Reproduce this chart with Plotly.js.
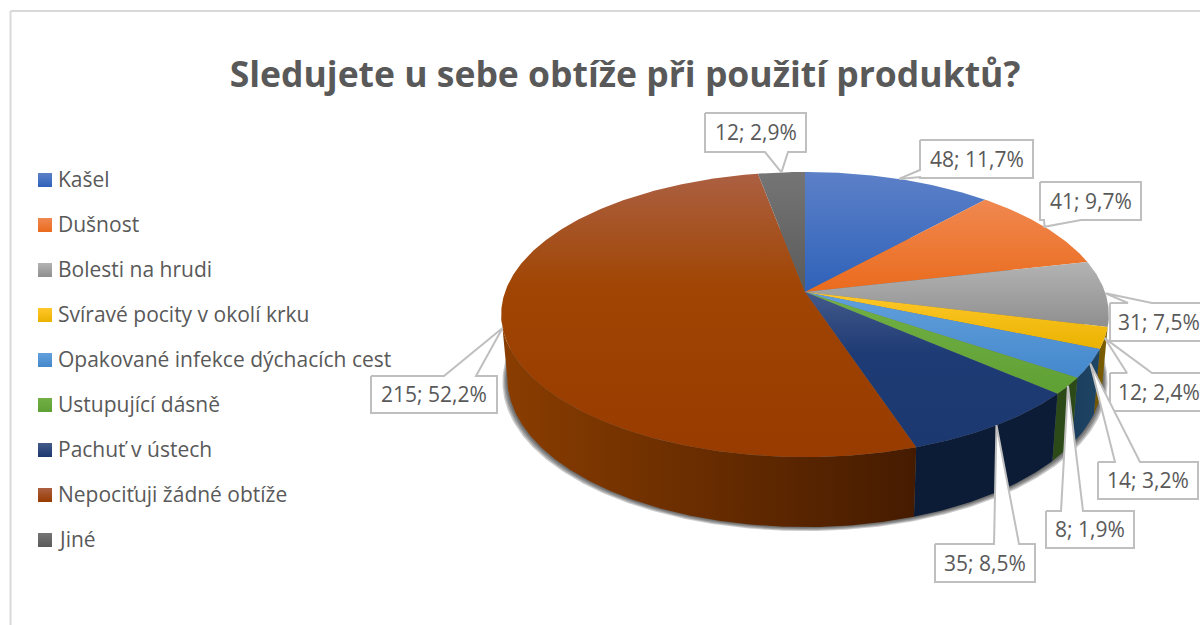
<!DOCTYPE html>
<html>
<head>
<meta charset="utf-8">
<script src="https://cdn.plot.ly/plotly-3.0.1.min.js"></script>
<style>html,body{margin:0;padding:0;background:#fff}#chart{width:1200px;height:625px}</style>
</head>
<body>
<div id="chart"></div>
<script>
// ---- data ----
const categories = ["Kašel","Dušnost","Bolesti na hrudi","Svíravé pocity v okolí krku","Opakované infekce dýchacích cest","Ustupující dásně","Pachuť v ústech","Nepociťuji žádné obtíže","Jiné"];
const counts = [48,41,31,12,14,8,35,215,12];
const percents = [11.7,9.7,7.5,2.4,3.2,1.9,8.5,52.2,2.9];

// ---- styling ----
const topColors = [
  ["#5c80c8","#2f62b9"],["#f08850","#ea6b1d"],["#b3b3b3","#8f8f8f"],
  ["#ffc82a","#eab200"],["#62a0dc","#4488cc"],["#72b045","#5fa034"],
  ["#435a8a","#1c3870"],["#ac6042","#983b00"],["#757575","#5a5a5a"]];
const midColors = [null,null,null,null,null,null,"#1e3b75","#a04503",null];
const wallColors = [
  ["#1f3d70","#1f3d70"],["#7a3a10","#7a3a10"],["#6a6a6a","#5e5e5e"],
  ["#7f6000","#6f5400"],["#1f4565","#1b3d5c"],["#2b4a18","#2b4a18"],
  ["#0c1c36","#0c1c36"],["#451b00","#8a3d00"],["#3a3a3a","#3a3a3a"]];
// callout boxes: left, top, right, bottom, wedge base start, wedge base end, side of the wedge
const boxLeft   = [920,1040,1110,1110,1098,1046,935,371,705];
const boxTop    = [140,182,303,373,462,511,544,376,113];
const boxRight  = [1033,1141,1207,1207,1198,1134,1035,497,806];
const boxBottom = [178,220,341,411,499,548,582,413,152];
const wedgeA    = [170,1044,1128,1127,1115,1061,994,444,765];
const wedgeB    = [177,1081,1152,1152,1140,1083,1019,476,788];
const wedgeSide = ["left","bottom","top","top","top","top","top","top","bottom"];

// ---- disc projection ----
const cx = 805, cy = 292, A = 300, B = 139, K = 0.158;
const SIL_R = 99, SIL_L = 261;
const rad = d => d * Math.PI / 180;
function topPt(deg){
  const u = Math.sin(rad(deg)), v = Math.cos(rad(deg)), w = 1 + K*v;
  return [cx + A*u/w, cy - B*v/w, v];
}
function botPt(deg, grow){
  const p = topPt(deg), g = grow || 0;
  return [cx + (p[0]-cx)*(0.98 + g*0.004), p[1] + 62 - 8*p[2] + g];
}
function arc(a0, a1, fn){
  const pts = [], n = Math.max(2, Math.ceil(Math.abs(a1-a0)*2));
  for(let i=0;i<=n;i++) pts.push(fn(a0 + (a1-a0)*i/n));
  return pts;
}
const total = percents.reduce((s,p)=>s+p,0);
const starts = [], ends = [];
percents.reduce((acc,p,i)=>{ starts[i]=acc/total*360; ends[i]=(acc+p)/total*360; return acc+p; },0);

const traces = [];
const xs = p => p.map(q=>q[0]), ys = p => p.map(q=>q[1]);

// soft shadow below the wall
[4,3,2,1].forEach(g=>{
  const p = arc(0,360,d=>botPt(d,g));
  traces.push({type:"scatter",mode:"lines",x:xs(p),y:ys(p),fill:"toself",fillcolor:"rgba(40,40,40,0.24)",line:{width:0},hoverinfo:"skip",showlegend:false});
});
// walls
categories.forEach((c,i)=>{
  const a0 = Math.max(starts[i],SIL_R), a1 = Math.min(ends[i],SIL_L);
  if(a1 <= a0) return;
  const p = arc(a0,a1,topPt).concat(arc(a1,a0,d=>botPt(d)));
  const x = xs(p);
  traces.push({type:"scatter",mode:"lines",x:x,y:ys(p),fill:"toself",line:{width:0},hoverinfo:"skip",showlegend:false,
    fillcolor:wallColors[i][0],
    fillgradient:{type:"horizontal",start:Math.min(...x),stop:Math.max(...x),colorscale:[[0,wallColors[i][1]],[1,wallColors[i][0]]]}});
});
// top face
categories.forEach((c,i)=>{
  const p = [[cx,cy]].concat(arc(starts[i],ends[i],topPt)).concat([[cx,cy]]);
  const y = ys(p);
  const scale = midColors[i] ? [[0,topColors[i][0]],[0.4,midColors[i]],[1,topColors[i][1]]] : [[0,topColors[i][0]],[1,topColors[i][1]]];
  traces.push({type:"scatter",mode:"lines",x:xs(p),y:y,fill:"toself",line:{width:0},name:c,
    text:counts[i]+"; "+percents[i].toFixed(1).replace(".",",")+"%",hoverinfo:"name+text",showlegend:false,
    fillcolor:topColors[i][1],
    fillgradient:{type:"vertical",start:Math.min(...y),stop:Math.max(...y),colorscale:scale}});
});
// callouts
const annotations = [];
categories.forEach((c,i)=>{
  const mid = (starts[i]+ends[i])/2, t = topPt(mid);
  const L=boxLeft[i],T=boxTop[i],R=boxRight[i],Bt=boxBottom[i],a=wedgeA[i],b=wedgeB[i];
  let p;
  if(wedgeSide[i]==="top") p=[[L,T],[a,T],[t[0],t[1]],[b,T],[R,T],[R,Bt],[L,Bt],[L,T]];
  else if(wedgeSide[i]==="bottom") p=[[L,T],[R,T],[R,Bt],[b,Bt],[t[0],t[1]],[a,Bt],[L,Bt],[L,T]];
  else p=[[L,T],[R,T],[R,Bt],[L,Bt],[L,b],[t[0],t[1]],[L,a],[L,T]];
  traces.push({type:"scatter",mode:"lines",x:xs(p),y:ys(p),fill:"toself",fillcolor:"#ffffff",line:{color:"#bfbfbf",width:2},hoverinfo:"skip",showlegend:false});
  annotations.push({x:(L+R)/2,y:(T+Bt)/2-0.5,xref:"x",yref:"y",showarrow:false,xanchor:"center",yanchor:"middle",
    text:counts[i]+"; "+percents[i].toFixed(1).replace(".",",")+"%",font:{family:"Open Sans",size:21,color:"#595959"}});
});
// legend
categories.forEach((c,i)=>{
  const ly = 180 + i*45;
  traces.push({type:"scatter",mode:"markers",x:[45],y:[ly],hoverinfo:"skip",showlegend:false,
    marker:{symbol:"square",size:14,color:topColors[i][0],line:{width:0},gradient:{type:"vertical",color:topColors[i][1]}}});
  annotations.push({x:58,y:ly-1,xref:"x",yref:"y",showarrow:false,xanchor:"left",yanchor:"middle",xshift:-2,
    text:c,font:{family:"Open Sans",size:21,color:"#595959"}});
});

const layout = {
  width:1200,height:625,margin:{l:0,r:0,t:0,b:0},paper_bgcolor:"#fff",plot_bgcolor:"#fff",showlegend:false,
  title:{text:"Sledujete u sebe obtíže při použití produktů?",x:625/1200,xanchor:"center",y:1-75/625,yanchor:"middle",
    font:{family:"Open Sans",size:35.5,weight:700,color:"#595959"}},
  xaxis:{range:[0,1200],visible:false,fixedrange:true},
  yaxis:{range:[625,0],visible:false,fixedrange:true},
  annotations:annotations,
  shapes:[
    {type:"line",xref:"x",yref:"y",x0:10.5,x1:10.5,y0:11,y1:625,line:{color:"#d9d9d9",width:2},layer:"below"},
    {type:"line",xref:"x",yref:"y",x0:10.5,x1:1200,y0:11,y1:11,line:{color:"#d9d9d9",width:2},layer:"below"}
  ]
};
Plotly.newPlot("chart",traces,layout,{displayModeBar:false,staticPlot:true});
</script>
</body>
</html>
